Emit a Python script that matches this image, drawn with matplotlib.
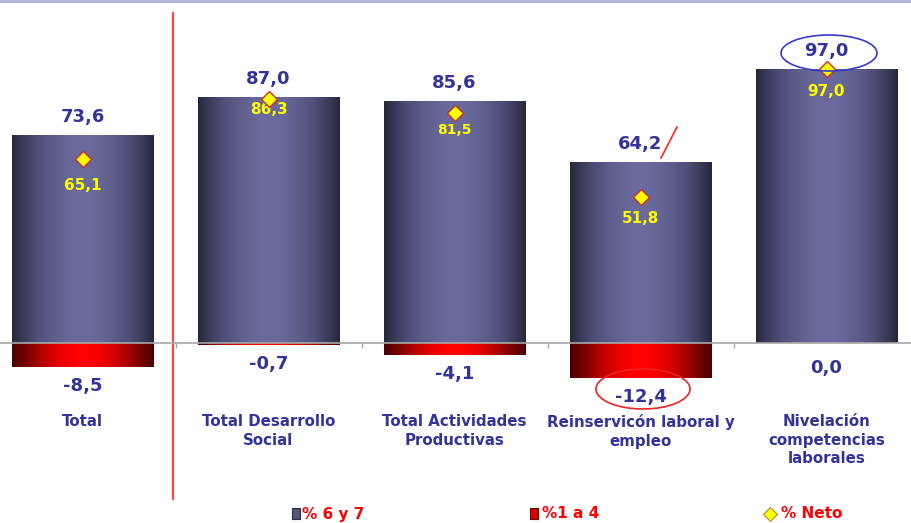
import numpy as np
import matplotlib
matplotlib.use("Agg")
import matplotlib.pyplot as plt
from matplotlib.colors import LinearSegmentedColormap
from matplotlib.patches import Rectangle, Ellipse
from matplotlib.lines import Line2D

# ---------------- data ----------------
categories = ["Total", "Total Desarrollo\nSocial", "Total Actividades\nProductivas",
              "Reinservicón laboral y\nempleo", "Nivelación\ncompetencias\nlaborales"]
pct_6_7 = [73.6, 87.0, 85.6, 64.2, 97.0]
pct_1_4 = [-8.5, -0.7, -4.1, -12.4, 0.0]
pct_neto = [65.1, 86.3, 81.5, 51.8, 97.0]
legend_labels = ["% 6 y 7", "%1 a 4", "% Neto"]

# styling
W, H = 911, 523
NAVY = "#333399"
YELLOW = "#ffff00"
net_label_offsets = [26, 10, 17, 22, 23]  # pixels below diamond
net_label_sizes = [11, 11, 10, 11, 11]

def fmt(v):
    return f"{v:.1f}".replace(".", ",")

fig = plt.figure(figsize=(W / 100, H / 100), dpi=100)
plt.rcParams['font.family'] = ['DejaVu Sans']

# axes position in pixels
ax_left_px, ax_right_px = -10.5, 919.5
ax_top_px, ax_bot_px = 12, 500
zero_px = 343
ppu = 2.825  # pixels per unit
ax = fig.add_axes([ax_left_px / W, (H - ax_bot_px) / H,
                   (ax_right_px - ax_left_px) / W, (ax_bot_px - ax_top_px) / H])
ax.set_xlim(-0.5, len(categories) - 0.5)
ax.set_ylim(-(ax_bot_px - zero_px) / ppu, (zero_px - ax_top_px) / ppu)
ax.axis("off")

x = np.arange(len(categories))
bw = 0.763

t = np.linspace(0, 1, 256)
blue_prof = np.sin(np.pi * t) ** 0.9
red_prof = np.sin(np.pi * t) ** 1.3
blue_cmap = LinearSegmentedColormap.from_list("b", ["#26263a", "#4a4a72", "#6a6a9c"])
red_cmap = LinearSegmentedColormap.from_list("r", ["#500000", "#b00000", "#ff0000"])

bars_top = ax.bar(x, pct_6_7, width=bw, color="none", edgecolor="none", zorder=2)
bars_bot = ax.bar(x, pct_1_4, width=bw, color="none", edgecolor="none", zorder=2)

for bars, cmap, prof in ((bars_top, blue_cmap, blue_prof), (bars_bot, red_cmap, red_prof)):
    for b in bars:
        h = b.get_height()
        if abs(h) < 1e-9:
            continue
        x0 = b.get_x()
        y0 = b.get_y()
        im = ax.imshow(prof[np.newaxis, :], cmap=cmap, aspect="auto", interpolation="bicubic",
                       extent=[x0, x0 + b.get_width(), min(y0, y0 + h), max(y0, y0 + h)],
                       zorder=2, vmin=0, vmax=1)
        im.set_clip_path(b)

# zero axis with boundary ticks
ax.axhline(0, color="#a8a8a8", lw=1.2, zorder=3)
ax.vlines(np.arange(len(categories) - 1) + 0.5, -1.8, 0, color="#a8a8a8", lw=1, zorder=3)
ax.set_xlim(-0.5, len(categories) - 0.5)

# red separator line
ax.axvline(0.485, color="#ff4444", lw=1.6, zorder=1)

# diamonds for neto
ax.plot(x, pct_neto, ls="none", marker="D", ms=8.5, mfc=YELLOW, mec="#c83030", mew=1, zorder=7)

# labels
for i in range(len(categories)):
    ax.annotate(fmt(pct_6_7[i]), (x[i], pct_6_7[i]), xytext=(0, 18), textcoords="offset pixels",
                ha="center", va="center", color=NAVY, fontsize=13, fontweight="bold", zorder=6)
    ax.annotate(fmt(pct_1_4[i]), (x[i], min(pct_1_4[i], 0)), xytext=(0, -19 if pct_1_4[i] < 0 else -25),
                textcoords="offset pixels", ha="center", va="center", color=NAVY,
                fontsize=13, fontweight="bold", zorder=6)
    ax.annotate(fmt(pct_neto[i]), (x[i], pct_neto[i]), xytext=(0, -net_label_offsets[i]),
                textcoords="offset pixels", ha="center", va="center", color=YELLOW,
                fontsize=net_label_sizes[i], fontweight="bold", zorder=6)
    ax.text(x[i], (ax_bot_px - 414) / (ax_bot_px - ax_top_px), categories[i],
            transform=ax.get_xaxis_transform(), ha="center", va="top", color=NAVY,
            fontsize=10.8, fontweight="bold", linespacing=1.3)

# annotation shapes (pixel coordinates -> figure fraction)
def fx(px):
    return px / W

def fy(py):
    return (H - py) / H

fig.add_artist(Ellipse((fx(829), fy(53)), 96 / W, 36 / H, transform=fig.transFigure,
                       fill=False, edgecolor="#3a3acc", lw=1.2, zorder=7))
fig.add_artist(Ellipse((fx(643), fy(389)), 94 / W, 40 / H, transform=fig.transFigure,
                       fill=False, edgecolor="#ee2222", lw=1.2, zorder=7))
fig.add_artist(Line2D([fx(661), fx(677)], [fy(158), fy(127)], transform=fig.transFigure,
                      color="#ff2222", lw=1.2))

# top border line
fig.add_artist(Line2D([0, 1], [fy(1), fy(1)], transform=fig.transFigure, color="#b0b0dc", lw=2))

# legend (manual)
ly = fy(514)
fig.add_artist(Rectangle((fx(292), fy(519)), 8 / W, 11 / H, transform=fig.transFigure,
                         facecolor="#55557f", edgecolor="#2a2a40", lw=0.8))
fig.add_artist(Rectangle((fx(530), fy(519)), 8 / W, 11 / H, transform=fig.transFigure,
                         facecolor="#dd0000", edgecolor="#600000", lw=0.8))
fig.add_artist(Line2D([fx(770)], [ly], transform=fig.transFigure, marker="D", ms=7,
                      mfc=YELLOW, mec="#c08030", mew=0.8, ls="none"))
for px, lab in zip([302, 542, 781], legend_labels):
    fig.text(fx(px), ly, lab, ha="left", va="center", color="#ff0000",
             fontsize=11, fontweight="bold")

fig.savefig("out.png", dpi=100)
